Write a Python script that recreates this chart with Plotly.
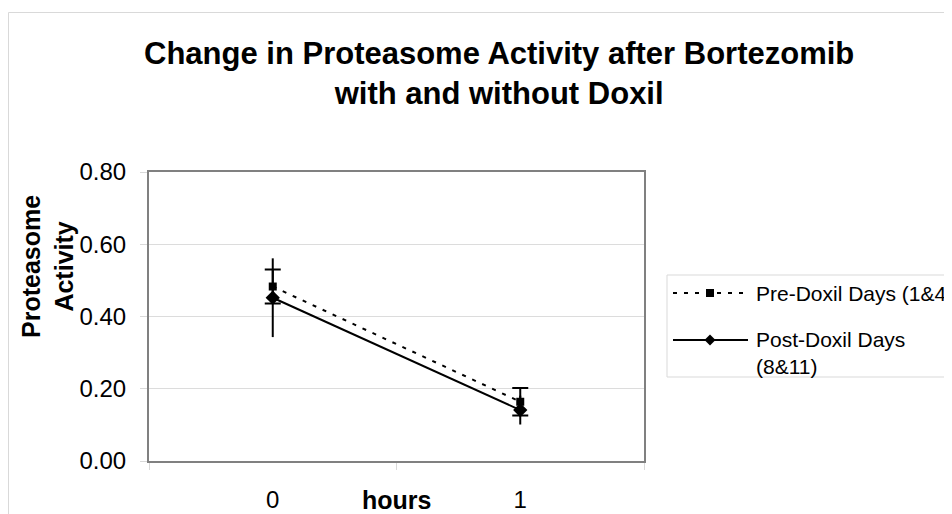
import plotly.graph_objects as go

# ---- data ----
hours = ["0", "1"]
x_pos = [0, 1]
pre_doxil = [0.483, 0.164]
pre_err = [0.047, 0.038]
post_doxil = [0.452, 0.141]
post_err = [0.109, 0.040]
y_ticks = [0.0, 0.2, 0.4, 0.6, 0.8]

series_names = ["Pre-Doxil Days (1&4)", "Post-Doxil Days<br>(8&11)"]

# page has an 8px body margin; the figure is sized to fill the rest
OFF = 8
W, H = 952 - OFF, 514 - OFF
# plot area in page pixels
L, R, T, B = 149, 644, 172, 461
FONT = "Liberation Sans, Arial, sans-serif"


def px_x(p):
    return (p - L) / (R - L)


def px_y(p):
    return (B - p) / (B - T)


fig = go.Figure()

fig.add_trace(go.Scatter(
    x=x_pos, y=pre_doxil, mode="lines+markers", name=series_names[0],
    line=dict(color="black", width=2, dash="4px,7px"),
    marker=dict(symbol="square", size=8, color="black"),
    error_y=dict(type="data", array=pre_err, visible=True, color="black",
                 thickness=2, width=8),
    showlegend=False,
))
fig.add_trace(go.Scatter(
    x=x_pos, y=post_doxil, mode="lines+markers", name=series_names[1],
    line=dict(color="black", width=2),
    marker=dict(symbol="diamond", size=11, color="black"),
    error_y=dict(type="data", array=post_err, visible=True, color="black",
                 thickness=2, width=0),
    showlegend=False,
))

shapes = []
annotations = []

# outer chart border
shapes.append(dict(type="rect", xref="paper", yref="paper",
                   x0=px_x(8.5), x1=px_x(1200), y0=px_y(12.5), y1=px_y(900),
                   line=dict(color="#d9d9d9", width=1), layer="below"))

# legend box
shapes.append(dict(type="rect", xref="paper", yref="paper",
                   x0=px_x(667), x1=px_x(1100), y0=px_y(275), y1=px_y(377),
                   line=dict(color="#d9d9d9", width=1), fillcolor="white", layer="below"))
# legend samples
shapes.append(dict(type="line", xref="paper", yref="paper",
                   x0=px_x(673), x1=px_x(748), y0=px_y(293), y1=px_y(293),
                   line=dict(color="black", width=2, dash="4px,7px")))
shapes.append(dict(type="rect", xref="paper", yref="paper",
                   x0=px_x(706), x1=px_x(714), y0=px_y(289), y1=px_y(297),
                   line=dict(color="black", width=0), fillcolor="black"))
shapes.append(dict(type="line", xref="paper", yref="paper",
                   x0=px_x(673), x1=px_x(748), y0=px_y(340), y1=px_y(340),
                   line=dict(color="black", width=2)))
dx, dy = px_x(710), px_y(340)
sx, sy = 5.5 / (R - L), 5.5 / (B - T)
shapes.append(dict(type="path", xref="paper", yref="paper",
                   path=f"M {dx-sx} {dy} L {dx} {dy+sy} L {dx+sx} {dy} L {dx} {dy-sy} Z",
                   line=dict(color="black", width=0), fillcolor="black"))

annotations.append(dict(text=series_names[0], xref="paper", yref="paper",
                        x=px_x(754), y=px_y(293), xanchor="left", yanchor="middle",
                        showarrow=False, font=dict(family=FONT, size=21, color="black")))
annotations.append(dict(text=series_names[1], xref="paper", yref="paper",
                        x=px_x(754), y=px_y(340), xanchor="left", yanchor="top",
                        yshift=14, showarrow=False, align="left",
                        font=dict(family=FONT, size=21, color="black")))

# title
annotations.append(dict(text="<b>Change in Proteasome Activity after Bortezomib<br>with and without Doxil</b>",
                        xref="paper", yref="paper", x=px_x(499), y=px_y(73),
                        xanchor="center", yanchor="middle", showarrow=False,
                        font=dict(family=FONT, size=31, color="black")))
# y axis title
annotations.append(dict(text="<b>Proteasome<br>Activity</b>", xref="paper", yref="paper",
                        x=px_x(47), y=px_y(267), xanchor="center", yanchor="middle",
                        textangle=-90, showarrow=False,
                        font=dict(family=FONT, size=25, color="black")))
# x axis title
annotations.append(dict(text="<b>hours</b>", xref="x", yref="paper",
                        x=0.5, y=px_y(500), xanchor="center", yanchor="middle",
                        showarrow=False, font=dict(family=FONT, size=25, color="black")))

fig.update_layout(
    width=W, height=H,
    margin=dict(l=L - OFF, r=W - (R - OFF), t=T - OFF, b=H - (B - OFF), pad=0,
                autoexpand=False),
    paper_bgcolor="white", plot_bgcolor="white",
    shapes=shapes, annotations=annotations,
    font=dict(family=FONT, color="black"),
)

fig.update_xaxes(
    range=[-0.5, 1.5], tickmode="array", tickvals=x_pos, ticktext=hours,
    ticks="", showgrid=False, zeroline=False, automargin=False,
    showline=True, mirror=True, linecolor="#808080", linewidth=2,
    tickfont=dict(family=FONT, size=24, color="black"), ticklabelstandoff=16,
    minor=dict(tickmode="array", tickvals=[-0.5, 0.5, 1.5], ticks="outside",
               ticklen=7, tickcolor="#d9d9d9", tickwidth=1, showgrid=False),
)
fig.update_yaxes(
    range=[0, 0.8], tickmode="array", tickvals=y_ticks,
    ticktext=[f"{v:.2f}" for v in y_ticks],
    ticks="outside", ticklen=7, tickcolor="#d9d9d9", tickwidth=1,
    showgrid=True, gridcolor="#dcdcdc", gridwidth=1, zeroline=False, automargin=False,
    showline=True, mirror=True, linecolor="#808080", linewidth=2,
    tickfont=dict(family=FONT, size=24, color="black"), ticklabelstandoff=9,
)

fig.write_html("out.html")
